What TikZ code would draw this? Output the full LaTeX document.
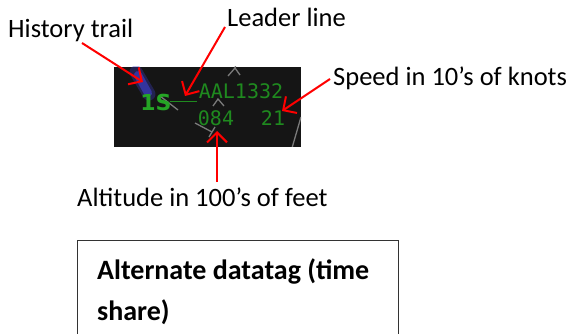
\documentclass[tikz,border=0pt]{standalone}
\usepackage{fontspec}
\setmainfont{Carlito}
\newfontfamily\radarfont{DejaVu Sans Mono}
\newfontfamily\tagfont{DejaVu Sans}
\usetikzlibrary{arrows.meta}
\definecolor{radarbg}{HTML}{151515}
\definecolor{radargreen}{HTML}{1F8A1F}
\definecolor{brightgreen}{HTML}{25A525}
\definecolor{trailblue}{HTML}{3C3CC0}
\definecolor{scopegray}{HTML}{7A7A7A}
\tikzset{
  lbl/.style={font=\fontsize{26.5}{30}\selectfont, text=black, inner sep=0pt, anchor=base west},
  callout/.style={draw=red, line width=2pt, -{Straight Barb[length=10pt,width=20pt,line width=2pt]}},
  radartxt/.style={font=\radarfont\fontsize{20}{22}\selectfont, text=radargreen, inner sep=0pt},
  scopeline/.style={draw=scopegray, line width=1.3pt},
}
\begin{document}
\begin{tikzpicture}[x=1pt,y=-1pt]
\useasboundingbox (0,0) rectangle (573,334);
% radar screen
\fill[radarbg] (114,67) rectangle (301,147);
\begin{scope}
\clip (114,67) rectangle (301,147);
\draw[scopeline] (228,76) -- (235,68) -- (240,75);
\draw[scopeline] (235,68) -- (237,60);
\draw[scopeline] (213,106) -- (218,99) -- (224,106);
\draw[scopeline] (195,123) -- (212,132);
\draw[scopeline] (209,137) -- (215,127);
\draw[scopeline] (301,117) -- (292,148);
\draw[scopeline] (160,96) -- (178,110);
% history trail
\draw[trailblue, opacity=0.35, line width=13pt, line cap=round] (136,72) -- (149,94);
\draw[trailblue, opacity=0.7, line width=8pt, line cap=round] (138,75) -- (148,93);
\end{scope}
\node[font=\tagfont\bfseries\fontsize{22}{24}\selectfont, text=brightgreen, inner sep=0pt] (track) at (156,102) {1S};
\node[radartxt] (callsign) at (241,91) {AAL1332};
\node[radartxt] (alt) at (216,118) {084};
\node[radartxt] (spd) at (273,118) {21};
\coordinate (lead1) at (170,102);
\coordinate (lead2) at (197,102);
\draw[radargreen, line width=1pt] (lead1) -- (lead2);
% labels
\node[lbl] (hist) at (8,38) {History trail};
\node[lbl] (lead) at (227,27) {Leader line};
\node[lbl] (speedlbl) at (333,86) {Speed in 10’s of knots};
\node[lbl] (altlbl) at (77,206) {Altitude in 100’s of feet};
% callouts
\coordinate (h1) at (82,43);
\coordinate (h2) at (143,82);
\coordinate (l1) at (225,27);
\coordinate (l2) at (185,96);
\coordinate (s1) at (330,79);
\coordinate (s2) at (282,111);
\coordinate (a1) at (217,182);
\coordinate (a2) at (217,131);
\draw[callout] (h1) -- (h2);
\draw[callout] (l1) -- (l2);
\draw[callout] (s1) -- (s2);
\draw[callout] (a1) -- (a2);
% alternate datatag box
\draw[draw=black!80, line width=1pt] (77,340) -- (77,240) -- (398,240) -- (398,340);
\node[font=\bfseries\fontsize{28}{34}\selectfont, anchor=north west, align=left, inner sep=0pt] (alttag) at (97,259) {Alternate datatag (time\\[7pt]share)};
\end{tikzpicture}
\end{document}
